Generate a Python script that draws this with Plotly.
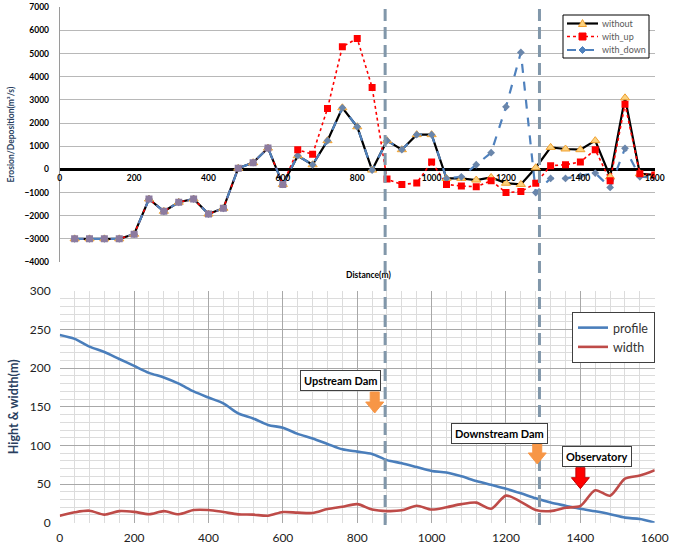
import plotly.graph_objects as go

# ---------------- data: top chart (erosion / deposition) ----------------
distance_top = [40, 80, 120, 160, 200, 240, 280, 320, 360, 400,
                440, 480, 520, 560, 600, 640, 680, 720, 760, 800,
                840, 880, 920, 960, 1000, 1040, 1080, 1120, 1160, 1200,
                1240, 1280, 1320, 1360, 1400, 1440, 1480, 1520, 1560, 1600]
without = [-3000, -3000, -3000, -3000, -2800, -1280, -1810, -1420, -1280, -1930,
           -1680, 50, 290, 920, -650, 590, 200, 1240, 2660, 1840,
           -30, 1240, 850, 1500, 1500, -390, -390, -460, -350, -600,
           -650, 70, 950, 880, 850, 1240, -320, 3090, -190, -240]
with_up = [-3000, -3000, -3000, -3000, -2800, -1280, -1810, -1420, -1280, -1930,
           -1680, 50, 290, 920, -650, 850, 650, 2630, 5300, 5650,
           3540, -420, -650, -590, 320, -650, -720, -750, -490, -1000,
           -960, -600, 160, 200, 320, 850, -490, 2810, -190, -240]
with_down = [-3000, -3000, -3000, -3000, -2800, -1280, -1810, -1420, -1280, -1930,
             -1680, 50, 290, 920, -650, 590, 200, 1240, 2660, 1840,
             -30, 1240, 850, 1500, 1500, -390, -320, 200, 720, 2700,
             5050, -1000, -390, -390, -290, -160, -780, 910, -320, -350]

# ---------------- data: bottom chart (profile / width) ----------------
distance_bottom = [0, 40, 80, 120, 160, 200, 240, 280, 320, 360,
                   400, 440, 480, 520, 560, 600, 640, 680, 720, 760,
                   800, 840, 880, 920, 960, 1000, 1040, 1080, 1120, 1160,
                   1200, 1240, 1280, 1320, 1360, 1400, 1440, 1480, 1520, 1560, 1600]
profile = [243, 238, 228, 221, 212, 203, 194, 188, 180, 170,
           162, 154.5, 141.5, 135, 126.5, 123, 115, 109, 102, 95,
           92, 89, 81, 77, 72, 67, 65, 60, 54, 49,
           44, 38, 31.5, 26, 22, 18, 14.7, 11, 6.5, 4.7, 0]
width = [9, 13.4, 15.5, 10.4, 15, 14, 11, 15, 11, 16.4,
         16.4, 13.8, 10.8, 10.4, 9, 13.8, 13, 12.5, 17.7, 20.7,
         24, 17, 15, 16, 22, 17, 20, 24, 26, 18,
         35, 27, 16.4, 15, 19.4, 21.6, 42, 35, 57, 61, 68]

x_ticks = [0, 200, 400, 600, 800, 1000, 1200, 1400, 1600]
top_y_ticks = [-4000, -3000, -2000, -1000, 0, 1000, 2000, 3000, 4000, 5000, 6000, 7000]
bottom_y_ticks = [0, 50, 100, 150, 200, 250, 300]

top_series_names = ["without", "with_up", "with_down"]
dam_positions = [875, 1290]
labels = [("Upstream Dam", 755, 183.5), ("Downstream Dam", 1183, 116), ("Observatory", 1444, 86)]
arrows = [(847, 142, "#f79646", "#f79646"), (1284, 76, "#f79646", "#f79646"), (1400, 44, "#ff0000", "#c00000")]

FONT = "Lato"
W, H = 675, 558
BLACK_C = "#000000"
RED_C = "#ff0000"
BLUE_C = "#4f81bd"
MAUVE = "#8c7b9f"
TRI_FILL, TRI_LINE = "#fcd27e", "#f0a030"
DOWN_MARK = "#6a86ab"


def px(x):
    return x / W


def py(y):
    return 1 - y / H


fig = go.Figure()

# --- top chart lines ---
fig.add_trace(go.Scatter(x=distance_top, y=without, mode="lines", line=dict(color=BLACK_C, width=2.2),
                         xaxis="x", yaxis="y", showlegend=False, hoverinfo="skip"))
fig.add_trace(go.Scatter(x=distance_top, y=with_up, mode="lines", line=dict(color=RED_C, width=1.6, dash="dot"),
                         xaxis="x", yaxis="y", showlegend=False, hoverinfo="skip"))
fig.add_trace(go.Scatter(x=distance_top, y=with_down, mode="lines", line=dict(color=BLUE_C, width=2.2, dash="dash"),
                         xaxis="x", yaxis="y", showlegend=False, hoverinfo="skip"))
# --- top chart markers ---
fig.add_trace(go.Scatter(x=distance_top, y=without, mode="markers",
                         marker=dict(symbol="triangle-up", size=8, color=TRI_FILL, line=dict(color=TRI_LINE, width=1)),
                         xaxis="x", yaxis="y", showlegend=False))
fig.add_trace(go.Scatter(x=distance_top, y=with_down, mode="markers",
                         marker=dict(symbol="diamond", size=6, color=DOWN_MARK),
                         xaxis="x", yaxis="y", showlegend=False))
up_colors = [MAUVE if u == d else RED_C for u, d in zip(with_up, with_down)]
fig.add_trace(go.Scatter(x=distance_top, y=with_up, mode="markers",
                         marker=dict(symbol="square", size=7, color=up_colors),
                         xaxis="x", yaxis="y", showlegend=False))

# --- bottom chart ---
fig.add_trace(go.Scatter(x=distance_bottom, y=profile, mode="lines", name="profile",
                         line=dict(color="#4a7ebb", width=2.6, shape="spline", smoothing=0.8),
                         xaxis="x2", yaxis="y2", legend="legend2"))
fig.add_trace(go.Scatter(x=distance_bottom, y=width, mode="lines", name="width",
                         line=dict(color="#be4b48", width=2.6, shape="spline", smoothing=0.8),
                         xaxis="x2", yaxis="y2", legend="legend2"))

dom_x = [0.0885, 0.970]
tick_font_top = dict(family=FONT, size=8.5, color="#000000", weight="bold")
tick_font_bot = dict(family=FONT, size=12, color="#222222")

fig.update_layout(
    width=W, height=H,
    margin=dict(l=0, r=0, t=0, b=0),
    paper_bgcolor="white", plot_bgcolor="white",
    font=dict(family=FONT),
    xaxis=dict(domain=dom_x, range=[0, 1600], tickvals=x_ticks, showgrid=False, zeroline=False,
               showline=False, anchor="free", position=1 - 169.3 / H, tickfont=tick_font_top,
               ticks="", ticklabelstandoff=2, automargin=False),
    yaxis=dict(domain=[0.5305, 0.9869], range=[-4000, 7000], tickvals=top_y_ticks, anchor="x",
               gridcolor="#b8b8b8", gridwidth=1, zeroline=True, zerolinecolor="#000000", zerolinewidth=3,
               showline=True, linecolor="#9a9a9a", linewidth=1, tickfont=tick_font_top, ticks="",
               ticklabelstandoff=8, automargin=False,
               title=dict(text="Erosion/Deposition(m³/s)", font=dict(family=FONT, size=8.5, weight="bold"),
                          standoff=8)),
    xaxis2=dict(domain=dom_x, range=[0, 1600], tickvals=x_ticks, anchor="y2",
                showgrid=True, gridcolor="#a8a8a8", gridwidth=1, zeroline=False, showline=False,
                minor=dict(dtick=40, showgrid=True, gridcolor="#dcdcdc", gridwidth=1),
                tickfont=tick_font_bot, ticks="", ticklabelstandoff=6, automargin=False),
    yaxis2=dict(domain=[0.0633, 0.4785], range=[0, 300], tickvals=bottom_y_ticks, anchor="x2",
                showgrid=True, gridcolor="#a8a8a8", gridwidth=1, zeroline=False, showline=False,
                minor=dict(dtick=10, showgrid=True, gridcolor="#dcdcdc", gridwidth=1),
                tickfont=tick_font_bot, ticks="", ticklabelstandoff=8, automargin=False,
                title=dict(text="Hight & width(m)", font=dict(family=FONT, size=12.5, weight="bold"),
                           standoff=8)),
    legend2=dict(x=px(572), y=py(312), xanchor="left", yanchor="top",
                 bgcolor="white", bordercolor="#404040", borderwidth=1,
                 font=dict(family=FONT, size=12.5, color="#333333"), itemwidth=30, tracegroupgap=0),
)

# dashed dam lines across both charts
for xd in dam_positions:
    fig.add_shape(type="line", xref="x", yref="paper", x0=xd, x1=xd,
                  y0=py(525), y1=py(5),
                  line=dict(color="#8197aa", width=3, dash="12px,6px"))

# label boxes
for text, lx, ly in labels:
    fig.add_annotation(x=lx, y=ly, xref="x2", yref="y2", text=text, showarrow=False,
                       font=dict(family=FONT, size=11, color="#000000", weight="bold"),
                       bgcolor="white", bordercolor="#404040", borderwidth=1, borderpad=3)

# block arrows
arrow_path = "M0,0 L-9,11 L-4.5,11 L-4.5,21 L4.5,21 L4.5,11 L9,11 Z"
for ax_, ay_, fillc, linec in arrows:
    fig.add_shape(type="path", xref="x2", yref="y2", xsizemode="pixel", ysizemode="pixel",
                  xanchor=ax_, yanchor=ay_, path=arrow_path,
                  fillcolor=fillc, line=dict(color=linec, width=1))

# --- top legend (drawn as a compact Excel-style key) ---
fig.add_shape(type="rect", xref="paper", yref="paper", x0=px(563), x1=px(649), y0=py(58), y1=py(15),
              fillcolor="white", line=dict(color="#000000", width=1))
legend_styles = [
    (dict(color=BLACK_C, width=2.2), "M-4,-3 L4,-3 L0,4 Z", TRI_FILL, TRI_LINE),
    (dict(color=RED_C, width=1.6, dash="dot"), "M-3.5,-3.5 L3.5,-3.5 L3.5,3.5 L-3.5,3.5 Z", RED_C, RED_C),
    (dict(color=BLUE_C, width=2.2, dash="dash"), "M0,-3.5 L3.5,0 L0,3.5 L-3.5,0 Z", BLUE_C, BLUE_C),
]
legend_rows = [23.5, 36.5, 50]
for name, (lstyle, mpath, mfill, mline), ry in zip(top_series_names, legend_styles, legend_rows):
    fig.add_shape(type="line", xref="paper", yref="paper", x0=px(567), x1=px(598), y0=py(ry), y1=py(ry),
                  line=lstyle)
    fig.add_shape(type="path", xref="paper", yref="paper", xsizemode="pixel", ysizemode="pixel",
                  xanchor=px(582.5), yanchor=py(ry), path=mpath, fillcolor=mfill,
                  line=dict(color=mline, width=1))
    fig.add_annotation(x=px(600), y=py(ry), xref="paper", yref="paper", text=name, showarrow=False,
                       xanchor="left", yanchor="middle",
                       font=dict(family=FONT, size=9, color="#595959"))

fig.add_annotation(x=px(368), y=py(275), xref="paper", yref="paper", text="Distance(m)",
                   showarrow=False, font=dict(family=FONT, size=8.5, color="#000000", weight="bold"))

fig.write_html("out.html", config={"displayModeBar": False},
               post_script="document.body.style.margin='0';document.body.style.overflow='hidden';")
